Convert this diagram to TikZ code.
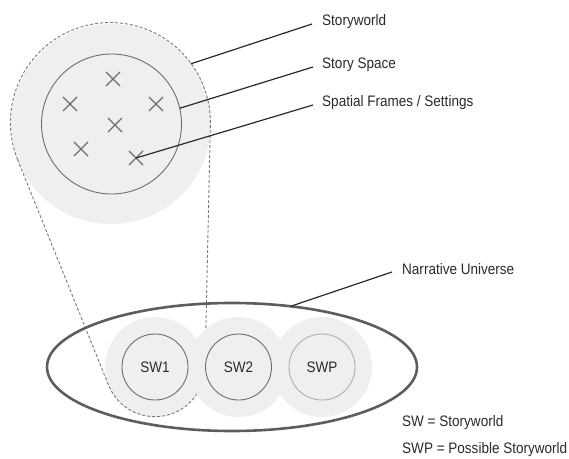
\documentclass[tikz,border=0pt]{standalone}
\usepackage{fontspec}
\setmainfont[FakeStretch=0.89]{Liberation Sans}
\usetikzlibrary{shapes.geometric}
\definecolor{fillgray}{HTML}{EFEFEF}
\definecolor{linegray}{HTML}{6E6E6E}
\definecolor{dashgray}{HTML}{7A7A7A}
\definecolor{inkgray}{HTML}{2A2A2A}
\begin{document}
\begin{tikzpicture}[x=1pt,y=1pt,
  every node/.style={font=\fontsize{15.2}{18}\selectfont, text=inkgray},
  disc/.style={circle, draw=none, fill=fillgray, inner sep=0pt, outer sep=0pt, minimum size=#1},
  ring/.style={circle, draw=linegray, line width=0.9pt, fill=fillgray, inner sep=0pt, outer sep=0pt, minimum size=#1},
  cross/.style={draw=linegray, line width=1.1pt},
  leader/.style={draw=inkgray, line width=1.2pt},
  label/.style={anchor=west, inner sep=0pt, text height=0.716em, text depth=0pt},
  outline/.style={draw=dashgray, line width=0.9pt, dash pattern=on 3pt off 2pt}
]
\useasboundingbox (0,0) rectangle (569,458);

% storyworld and its story space
\node[disc=200pt] (sw) at (111,334) {};
\node[circle, draw=linegray, line width=0.9pt, inner sep=0pt, outer sep=0pt, minimum size=140pt] (space) at (111.5,334) {};

% spatial frames / settings
\foreach \n/\px/\py in {f1/113/379, f2/70/354, f3/156/354, f4/115/333, f5/81/309, f6/136/300}{
  \coordinate (\n) at (\px,\py);
}
\foreach \n in {f1,f2,f3,f4,f5,f6}{
  \draw[cross] (\n) ++(-7,-7) -- ++(14,14) (\n) ++(-7,7) -- ++(14,-14);
}

% storyworld discs in the narrative universe
\node[disc=100pt] (o1) at (155,91) {};

% dashed hull joining the storyworld to SW1
\draw[outline] (sw.201.9) arc[start angle=201.9, end angle=-1.4, radius=100pt]
  -- (o1.-1.4) arc[start angle=-1.4, end angle=-158.1, radius=50pt] -- cycle;

\node[disc=100pt] (o2) at (238.5,91) {};
\node[disc=100pt] (o3) at (322,91) {};

\node[ring=66pt] (sw1) at (o1) {SW1};
\node[ring=66pt] (sw2) at (o2) {SW2};
\node[ring=66pt, draw=linegray!55] (swp) at (o3) {SWP};

% narrative universe
\node[ellipse, draw=linegray!85!black, line width=2.6pt, inner sep=0pt, outer sep=0pt,
      minimum width=370pt, minimum height=128pt] (nu) at (232,91) {};

% labels and leader lines
\node[label] (lsw) at (322,436) {Storyworld};
\node[label] (lss) at (322,393) {Story Space};
\node[label] (lsf) at (322,355) {Spatial Frames / Settings};
\node[label] (lnu) at (402,187) {Narrative Universe};
\node[label] (k1) at (402,35) {SW = Storyworld};
\node[label] (k2) at (402,8) {SWP = Possible Storyworld};

\draw[leader] (sw.37) -- ([xshift=-10pt,yshift=-2pt]lsw.west);
\draw[leader] (space.13) -- ([xshift=-9pt,yshift=-2pt]lss.west);
\draw[leader] (f6) -- ([xshift=-9pt,yshift=-2pt]lsf.west);
\draw[leader] (nu.46) -- ([xshift=-10pt,yshift=-1pt]lnu.west);
\end{tikzpicture}
\end{document}
